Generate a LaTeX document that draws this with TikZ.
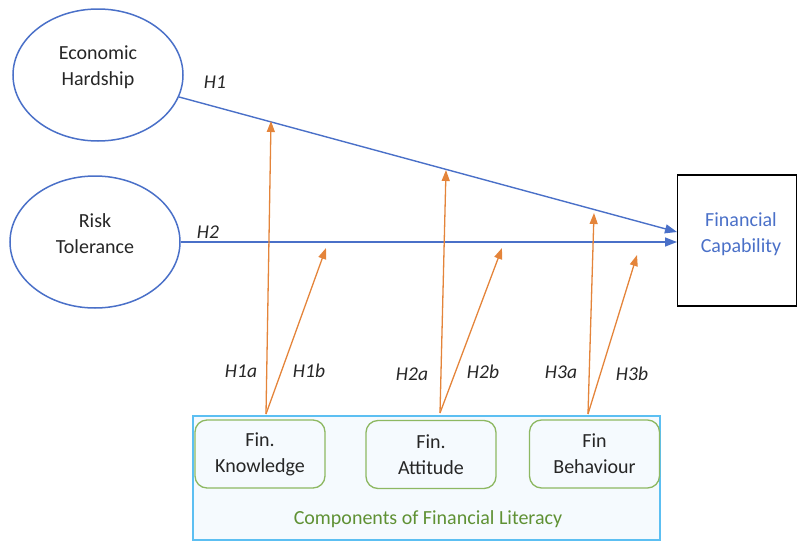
\documentclass[tikz,border=0pt]{standalone}
\usepackage{fontspec}
\setmainfont{Carlito}
\usetikzlibrary{shapes.geometric,arrows.meta}

\definecolor{lineblue}{HTML}{4A70C8}
\definecolor{arrorange}{HTML}{E4843A}
\definecolor{boxgreen}{HTML}{8DB862}
\definecolor{textgreen}{HTML}{5F9134}
\definecolor{panelblue}{HTML}{5CBFF2}
\definecolor{panelfill}{HTML}{F5FAFE}
\definecolor{darktext}{HTML}{262626}

\begin{document}
\begin{tikzpicture}[x=1pt, y=-1pt,
        every node/.style={font=\fontsize{20}{26}\selectfont, text=darktext, align=center},
        construct/.style={ellipse, draw=lineblue, line width=1.5pt, minimum width=170pt, minimum height=132pt},
        ctext/.style={yshift=8pt},
        comp/.style={draw=boxgreen, line width=1.3pt, rounded corners=12pt, minimum width=130pt, minimum height=68pt},
        hlabel/.style={font=\fontsize{19.5}{22}\selectfont\itshape},
        mainpath/.style={draw=lineblue, line width=1.4pt, -{Triangle[length=12pt,width=9pt]}},
        moderate/.style={draw=arrorange, line width=1.3pt, -{Triangle[length=11pt,width=8pt]}}]
        \useasboundingbox (0,0) rectangle (798,541);

        % Konstrukte
        \node[construct, label={[ctext]center:Economic\\Hardship}] (eh) at (98,75) {};
        \node[construct, label={[ctext]center:Risk\\Tolerance}] (rt) at (95,242) {};
        \node[draw=black, line width=1.5pt, minimum width=119pt, minimum height=131pt,
              label={[ctext, yshift=-2pt, xshift=4pt, text=lineblue]center:Financial\\Capability}] (fc) at (737,240.5) {};

        % Komponenten
        \node[draw=panelblue, fill=panelfill, line width=2pt, minimum width=467pt, minimum height=124pt] (panel) at (426.5,478) {};
        \node[comp] (fk) at (260,454) {Fin.\\Knowledge};
        \node[comp] (fa) at (431,454.5) {Fin.\\Attitude};
        \node[comp] (fb) at (594.5,454) {Fin\\Behaviour};
        \node[text=textgreen] (cl) at (428,519) {Components of Financial Literacy};

        % Endpunkte
        \coordinate (h1end) at (677,232);
        \coordinate (h2end) at (677,242);
        \coordinate (k0) at (266,414);
        \coordinate (a0) at (440,413);
        \coordinate (b0) at (588,414);
        \coordinate (k1) at (271,121);
        \coordinate (k2) at (326,248);
        \coordinate (a1) at (446,170);
        \coordinate (a2) at (502,248);
        \coordinate (b1) at (594,213);
        \coordinate (b2) at (637,255);

        % Pfade
        \draw[mainpath] (eh) -- (h1end);
        \draw[mainpath] (rt) -- (h2end);

        \draw[moderate] (k0) -- (k1);
        \draw[moderate] (k0) -- (k2);
        \draw[moderate] (a0) -- (a1);
        \draw[moderate] (a0) -- (a2);
        \draw[moderate] (b0) -- (b1);
        \draw[moderate] (b0) -- (b2);

        % Beschriftungen
        \node[hlabel] (l1) at (215,82) {H1};
        \node[hlabel] (l2) at (208,232) {H2};
        \node[hlabel] (l1a) at (241,371) {H1a};
        \node[hlabel] (l1b) at (309,371) {H1b};
        \node[hlabel] (l2a) at (412,374) {H2a};
        \node[hlabel] (l2b) at (483,372) {H2b};
        \node[hlabel] (l3a) at (561,372) {H3a};
        \node[hlabel] (l3b) at (632,374) {H3b};
\end{tikzpicture}
\end{document}
